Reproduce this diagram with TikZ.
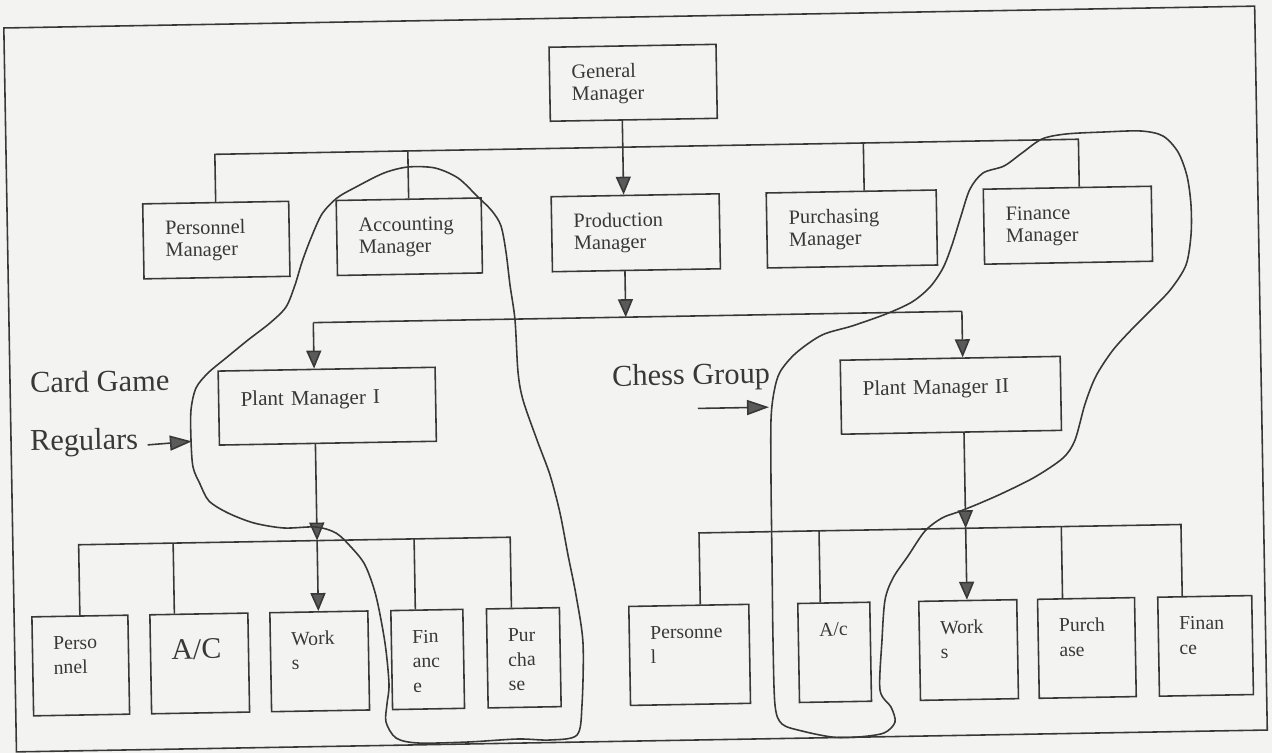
\documentclass[tikz,border=0pt]{standalone}
\usepackage{fontspec}
\setmainfont{Liberation Serif}
\usetikzlibrary{arrows.meta}
\hyphenpenalty=10000
\exhyphenpenalty=10000
\definecolor{paper}{HTML}{F3F3F1}
\definecolor{ink}{HTML}{383838}
\definecolor{headfill}{HTML}{5A5A5A}
\begin{document}
\begin{tikzpicture}[x=0.02cm, y=-0.02cm,
  link/.style={draw=ink, line width=0.9pt},
  arr/.style={link, -{Triangle[length=0.36cm, width=0.3cm, fill=headfill]}},
  arrl/.style={link, -{Triangle[length=0.44cm, width=0.3cm, fill=headfill]}},
  mgr/.style={draw=ink, line width=0.9pt, rectangle, anchor=north west,
    align=left, text=ink, inner xsep=0.44cm, inner ysep=0pt, text width=#1,
    text height=0.63cm, text depth=0.87cm, font=\fontsize{11.6}{12.5}\selectfont},
  plant/.style={draw=ink, line width=0.9pt, rectangle, anchor=north west,
    align=left, text=ink, inner xsep=0.44cm, inner ysep=0pt, text width=#1,
    text height=0.71cm, text depth=0.77cm, font=\fontsize{12}{14}\selectfont},
  unit/.style={draw=ink, line width=0.9pt, rectangle, anchor=north west,
    align=left, text=ink, inner xsep=0.42cm, inner ysep=0pt, text width=#1,
    text height=0.66cm, text depth=1.32cm, font=\fontsize{11.2}{14}\selectfont},
  big/.style={inner sep=0pt, text=ink, anchor=base west, font=\fontsize{17.3}{20}\selectfont},
  blob/.style={draw=ink, line width=0.9pt}
]
\fill[paper] (0,0) rectangle (1272,753);
\useasboundingbox (0,0) rectangle (1272,753);

\begin{scope}[rotate around={1:(636,376)}, transform shape]
  % outer frame
  \draw[link] (10,17) rectangle (1261,741);

  % top management
  \node[mgr=2.46cm, text depth=0.85cm] (gm) at (554,45) {General\\Manager};
  \node[mgr=2.04cm] (pmgr) at (145,194.5) {Personnel\\Manager};
  \node[mgr=2.02cm] (amgr) at (338.5,194.5) {Accounting\\Manager};
  \node[mgr=2.48cm] (prod) at (553.5,194.5) {Production\\Manager};
  \node[mgr=2.52cm] (purm) at (768.6,194.5) {Purchasing\\Manager};
  \node[mgr=2.48cm] (finm) at (985.7,194.5) {Finance\\Manager};

  % plant managers
  \node[plant=3.46cm] (pm1) at (217.5,363) {Plant Manager I};
  \node[plant=3.52cm] (pm2) at (839.7,363) {Plant Manager II};

  % departments of plant I
  \node[unit=1.08cm] (lpers) at (27,605.5) {Perso\\nnel};
  \node[unit=1.12cm, text height=0.9cm, text depth=1.08cm,
        font=\fontsize{17}{20}\selectfont] (lac) at (145,605.5) {A/C};
  \node[unit=1.12cm] (lworks) at (265,605.5) {Work\\s};
  \node[unit=0.6cm] (lfin) at (386,605.5) {Fin\\anc\\e};
  \node[unit=0.62cm] (lpur) at (481.6,605.5) {Pur\\cha\\se};

  % departments of plant II
  \node[unit=1.56cm] (rpers) at (624,605.5) {Personne\\l};
  \node[unit=0.6cm] (rac) at (793,605.5) {A/c};
  \node[unit=1.12cm] (rworks) at (914,605.5) {Work\\s};
  \node[unit=1.1cm] (rpurch) at (1032.8,605.5) {Purch\\ase};
  \node[unit=1.04cm] (rfin) at (1153,605.5) {Finan\\ce};

  % bus levels
  \coordinate (bus1) at (0,147);
  \coordinate (bus2) at (0,317);
  \coordinate (bus3) at (0,535);
  \coordinate (bus4) at (0,534);

  % drop points
  \coordinate (d-purm) at ([xshift=0.26cm]purm.north);
  \coordinate (d-finm) at ([xshift=0.24cm]finm.north);
  \coordinate (gmo) at ([xshift=-0.23cm]gm.south);
  \coordinate (prodo) at ([xshift=-0.23cm]prod.south);
  \coordinate (d-pm1) at ([xshift=-0.25cm]pm1.north);
  \coordinate (d-pm2) at ([xshift=0.25cm]pm2.north);
  \coordinate (o-pm1) at ([xshift=-0.25cm]pm1.south);
  \coordinate (o-pm2) at ([xshift=0.25cm]pm2.south);
  \coordinate (d-lac) at ([xshift=-0.49cm]lac.north);
  \coordinate (d-lfin) at ([xshift=-0.23cm]lfin.north);
  \coordinate (d-lpur) at ([xshift=-0.23cm]lpur.north);
  \coordinate (d-rpers) at ([xshift=0.23cm]rpers.north);
  \coordinate (d-rac) at ([xshift=-0.27cm]rac.north);
  \coordinate (d-rpurch) at ([xshift=-0.47cm]rpurch.north);
  \coordinate (d-rfin) at ([xshift=-0.45cm]rfin.north);

  % top bus
  \draw[link] (pmgr.north) -- (pmgr.north |- bus1) -- (d-finm |- bus1) -- (d-finm);
  \draw[link] (amgr.north |- bus1) -- (amgr.north);
  \draw[link] (d-purm |- bus1) -- (d-purm);
  \draw[arr] (gmo) -- (gmo |- prod.north);

  % middle bus
  \draw[arr] (prodo) -- (prodo |- bus2);
  \draw[link] (d-pm1 |- bus2) -- (d-pm2 |- bus2);
  \draw[arr] (d-pm1 |- bus2) -- (d-pm1);
  \draw[arr] (d-pm2 |- bus2) -- (d-pm2);

  % plant I bus
  \draw[arr] (o-pm1) -- (o-pm1 |- bus3);
  \draw[arr] (o-pm1 |- bus3) -- (o-pm1 |- lworks.north);
  \draw[link] (lpers.north) -- (lpers.north |- bus3) -- (d-lpur |- bus3) -- (d-lpur);
  \draw[link] (d-lac |- bus3) -- (d-lac);
  \draw[link] (d-lfin |- bus3) -- (d-lfin);

  % plant II bus
  \draw[arr] (o-pm2) -- (o-pm2 |- bus4);
  \draw[arr] (o-pm2 |- bus4) -- (o-pm2 |- rworks.north);
  \draw[link] (d-rpers) -- (d-rpers |- bus4) -- (d-rfin |- bus4) -- (d-rfin);
  \draw[link] (d-rac |- bus4) -- (d-rac);
  \draw[link] (d-rpurch |- bus4) -- (d-rpurch);

  % group labels
  \node[big] (cardgame) at (29.7,382.4) {Card Game};
  \node[big] (regulars) at (28.7,440.4) {Regulars};
  \node[big] (chess) at (611.8,385.6) {Chess Group};
  \coordinate (cgtip) at (190.8,433.6);
  \coordinate (chtail) at (697.4,409.5);
  \coordinate (chtip) at (768.4,409.5);
  \draw[arrl] ([xshift=0.18cm]regulars.mid east) -- (cgtip);
  \draw[arrl] (chtail) -- (chtip);
\end{scope}

% informal group: card game regulars
\draw[blob] plot[smooth cycle, tension=0.5] coordinates {
  (191,440) (191,410) (196,388) (208,373) (226,358) (248,340) (270,323)
  (286,307) (295,285) (302,262) (311,238) (322,214) (337,198) (356,187)
  (384,173) (408,167) (435,168) (458,178) (477,196) (492,211) (501,226)
  (506,252) (510,285) (515,320) (518,372) (523,400) (537,440) (550,475)
  (560,513) (568,555) (576,595) (583,643) (582,705) (577,735) (550,740)
  (518,739) (468,742) (418,743) (396,738) (386,722) (387,704) (389,684)
  (385,643) (376,596) (365,565) (351,547) (336,533) (316,527) (284,528)
  (254,523) (228,513) (209,501) (200,484) (193,467)};

% informal group: chess group
\draw[blob] plot[smooth cycle, tension=0.5] coordinates {
  (774,392) (780,372) (796,353) (822,335) (852,326) (886,314) (912,302)
  (930,287) (943,268) (952,245) (961,216) (970,189) (983,173) (1004,166)
  (1022,153) (1042,139) (1066,134) (1104,132) (1141,131) (1163,136)
  (1178,152) (1187,176) (1191,205) (1191,235) (1186,265) (1171,289)
  (1153,308) (1133,328) (1113,350) (1096,376) (1085,404) (1075,440)
  (1063,458) (1035,477) (1003,493) (978,504) (958,512) (942,518) (925,531)
  (908,556) (893,578) (885,600) (882,640) (880,690) (891,707) (895,722)
  (884,733) (858,737) (832,737) (802,731) (782,724) (775,705) (773,640)
  (772,560) (771,480) (771,420)};
\end{tikzpicture}
\end{document}
